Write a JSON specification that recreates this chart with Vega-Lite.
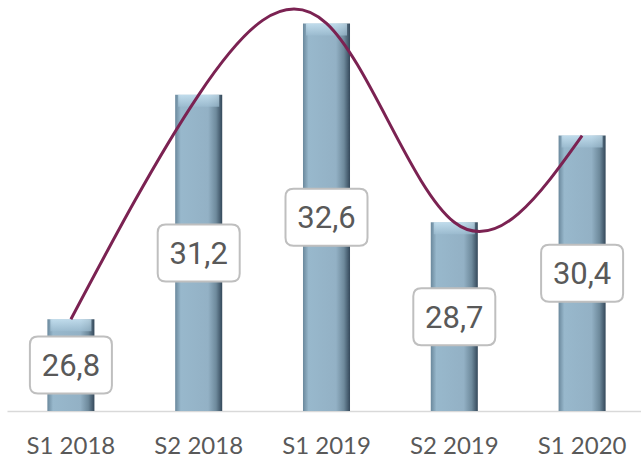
{
  "$schema": "https://vega.github.io/schema/vega-lite/v6.json",
  "width": 639,
  "height": 408,
  "autosize": {"type": "none"},
  "padding": {"left": 7, "top": 3, "right": 0, "bottom": 52},
  "background": "white",
  "config": {"view": {"stroke": null}},
  "data": {"values": [
    {"period": "S1 2018", "value": 26.8, "label": "26,8"},
    {"period": "S2 2018", "value": 31.2, "label": "31,2"},
    {"period": "S1 2019", "value": 32.6, "label": "32,6"},
    {"period": "S2 2019", "value": 28.7, "label": "28,7"},
    {"period": "S1 2020", "value": 30.4, "label": "30,4"}
  ]},
  "encoding": {
    "x": {"field": "period", "type": "nominal", "sort": null,
      "scale": {"paddingInner": 0.632, "paddingOuter": 0.316},
      "axis": {"title": null, "labelAngle": 0, "ticks": false, "domainColor": "#d9d9d9", "domainWidth": 1.5,
        "labelFont": "Lato", "labelFontSize": 24, "labelColor": "#595959", "labelPadding": 23}}
  },
  "layer": [
    {
      "mark": {"type": "bar", "color": {"gradient": "linear", "x1": 0, "x2": 1, "y1": 0, "y2": 0,
        "stops": [
          {"offset": 0, "color": "#6a889c"},
          {"offset": 0.12, "color": "#98b8cc"},
          {"offset": 0.7, "color": "#93b1c5"},
          {"offset": 0.87, "color": "#6e8a9c"},
          {"offset": 1, "color": "#34485a"}
        ]}},
      "encoding": {
        "y": {"field": "value", "type": "quantitative", "scale": {"domain": [25, 33], "zero": false, "nice": false}, "axis": null},
        "y2": {"datum": 25}
      }
    },
    {
      "mark": {"type": "tick", "orient": "horizontal", "thickness": 12, "yOffset": 6, "size": 41,
        "color": {"gradient": "linear", "x1": 0, "x2": 0, "y1": 0, "y2": 1,
          "stops": [{"offset": 0, "color": "#d2ecfa"}, {"offset": 1, "color": "#9dbdd1"}]}},
      "encoding": {"y": {"field": "value", "type": "quantitative", "scale": {"domain": [25, 33], "zero": false, "nice": false}, "axis": null}}
    },
    {
      "mark": {"type": "line", "interpolate": "natural", "color": "#7b2252", "strokeWidth": 3},
      "encoding": {"y": {"field": "value", "type": "quantitative", "scale": {"domain": [25, 33], "zero": false, "nice": false}, "axis": null}}
    },
    {
      "mark": {"type": "point", "filled": true, "fill": "white", "stroke": "#bfbfbf", "strokeWidth": 2, "opacity": 1, "size": 6724,
        "shape": "M-0.805,-0.695 H0.805 Q1,-0.695 1,-0.5 V0.5 Q1,0.695 0.805,0.695 H-0.805 Q-1,0.695 -1,0.5 V-0.5 Q-1,-0.695 -0.805,-0.695 Z"},
      "encoding": {"y": {"field": "value", "type": "quantitative", "scale": {"domain": [25, 41], "zero": false, "nice": false}, "axis": null}}
    },
    {
      "mark": {"type": "text", "font": "Roboto", "fontSize": 31, "color": "#595959", "baseline": "middle", "dy": 2},
      "encoding": {
        "y": {"field": "value", "type": "quantitative", "scale": {"domain": [25, 41], "zero": false, "nice": false}, "axis": null},
        "text": {"field": "label"}
      }
    }
  ],
  "resolve": {"scale": {"y": "independent"}}
}
